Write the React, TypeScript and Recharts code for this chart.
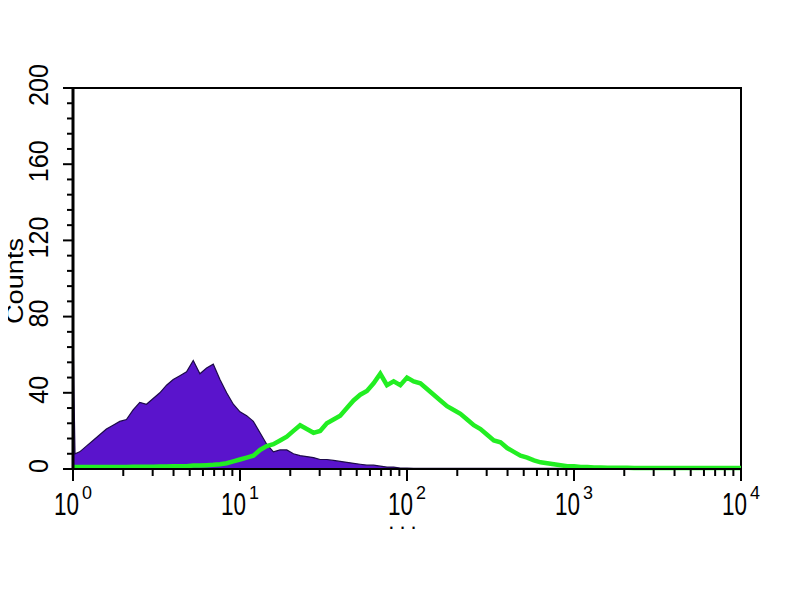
import React from "react";
import { ComposedChart, Area, Line, XAxis, YAxis, ReferenceArea } from "recharts";

// log10 channel positions of histogram bins
const channels = [
  0, 0.006, 0.012,
  0.04, 0.08, 0.12, 0.16, 0.2, 0.24, 0.28, 0.32, 0.36, 0.4,
  0.44, 0.48, 0.52, 0.56, 0.6, 0.64, 0.68, 0.72, 0.76, 0.8,
  0.84, 0.88, 0.92, 0.96, 1, 1.04, 1.08, 1.12, 1.16, 1.2,
  1.24, 1.28, 1.32, 1.36, 1.4, 1.44, 1.48, 1.52, 1.56, 1.6,
  1.64, 1.68, 1.72, 1.76, 1.8, 1.84, 1.88, 1.92, 1.96, 2,
  2.04, 2.08, 2.12, 2.16, 2.2, 2.24, 2.28, 2.32, 2.36, 2.4,
  2.44, 2.48, 2.52, 2.56, 2.6, 2.64, 2.68, 2.72, 2.76, 2.8,
  2.84, 2.88, 2.92, 2.96, 3, 3.04, 3.08, 3.12, 3.16, 3.2,
  3.24, 3.28, 3.32, 3.36, 3.4, 3.44, 3.48, 3.52, 3.56, 3.6,
  3.64, 3.68, 3.72, 3.76, 3.8, 3.84, 3.88, 3.92, 3.96, 4,
];

const purpleCounts = [
  75, 38, 8,
  9, 12, 15, 18, 21, 23, 25, 26, 31, 35,
  34, 37, 40, 44, 47, 49, 51, 57, 50, 53,
  55, 47, 40, 34, 30, 28, 25, 19, 13, 9,
  10, 10, 8, 7, 6.5, 6, 5, 5, 4.5, 4,
  3.5, 3, 2.5, 2, 2, 1.5, 1, 1, 0.5, 0.5,
  0.3, 0.3, 0.3, 0.3, 0.3, 0.3, 0.3, 0.3, 0.3, 0.3,
  0.3, 0.3, 0.3, 0.3, 0.3, 0.3, 0.3, 0.3, 0.3, 0.3,
  0.3, 0.3, 0.3, 0.3, 0, 0, 0, 0, 0, 0,
  0, 0, 0, 0, 0, 0, 0, 0, 0, 0,
  0, 0, 0, 0, 0, 0, 0, 0, 0, 0,
];

const greenCounts = [
  1, 1, 1,
  1, 1, 1, 1, 1, 1, 1, 1, 1.2, 1.2,
  1.2, 1.2, 1.3, 1.3, 1.5, 1.5, 1.5, 1.8, 1.8, 2,
  2.2, 2.5, 3, 4, 5, 6, 7, 10, 12, 13,
  15, 17, 20, 23, 21, 19, 20, 24, 26, 28,
  32, 36, 39, 41, 45, 50, 44, 46, 44, 48,
  46, 45, 42, 39, 36, 33, 31, 29, 26, 23,
  21, 18, 15, 14, 11, 9, 7, 6, 4.5, 3.5,
  3, 2.5, 2, 1.5, 1.5, 1, 1, 0.8, 0.8, 0.7,
  0.7, 0.6, 0.6, 0.5, 0.5, 0.5, 0.5, 0.5, 0.5, 0.5,
  0.5, 0.5, 0.5, 0.5, 0.5, 0.5, 0.5, 0.5, 0.5, 0.5,
];

const decades = [0, 1, 2, 3, 4];
const minorMultipliers = [2, 3, 4, 5, 6, 7, 8, 9];
const yTicks = [
  0, 8, 16, 24, 32, 40, 48, 56, 64, 72, 80, 88, 96, 104, 112, 120,
  128, 136, 144, 152, 160, 168, 176, 184, 192, 200,
];
const yLabelStep = 40;
const yLabel = "Counts";
const xLabel = "...";

const data = channels.map((c, i) => ({ x: c, purple: purpleCounts[i], green: greenCounts[i] }));

const xTicks: number[] = [];
decades.forEach((d) => {
  xTicks.push(d);
  if (d < decades[decades.length - 1]) {
    minorMultipliers.forEach((m) => xTicks.push(d + Math.log10(m)));
  }
});

const FONT = "'Liberation Sans', Arial, sans-serif";

const XTick = (props: any) => {
  const { x, y, payload } = props;
  const v = payload.value as number;
  const major = Math.abs(v - Math.round(v)) < 1e-6;
  return (
    <g>
      <line x1={x} y1={y} x2={x} y2={y + (major ? 12 : 7)} stroke="#000" strokeWidth={2} />
      {major && (
        <g>
          <text
            x={x + 6}
            y={y + 46}
            textAnchor="end"
            fontFamily={FONT}
            fontSize={31}
            textLength={25}
            lengthAdjust="spacingAndGlyphs"
            fill="#000"
          >
            10
          </text>
          <text
            x={x + 9}
            y={y + 30}
            textAnchor="start"
            fontFamily={FONT}
            fontSize={18}
            textLength={10}
            lengthAdjust="spacingAndGlyphs"
            fill="#000"
          >
            {Math.round(v)}
          </text>
        </g>
      )}
    </g>
  );
};

const YTick = (props: any) => {
  const { x, y, payload } = props;
  const v = payload.value as number;
  const major = v % yLabelStep === 0;
  const len = String(v).length * 14;
  return (
    <g>
      <line x1={x - (major ? 10 : 6)} y1={y} x2={x} y2={y} stroke="#000" strokeWidth={2} />
      {major && (
        <text
          x={48}
          y={y - 3}
          transform={`rotate(-90, 48, ${y - 3})`}
          textAnchor="middle"
          fontFamily={FONT}
          fontSize={28}
          textLength={len}
          lengthAdjust="spacingAndGlyphs"
          fill="#000"
        >
          {v}
        </text>
      )}
    </g>
  );
};

export default function App() {
  return (
    <div style={{ width: 800, height: 600, marginLeft: -8, marginTop: -8, background: "#fff" }}>
      <ComposedChart
        width={800}
        height={600}
        data={data}
        margin={{ top: 88, right: 59, bottom: 91, left: 13 }}
        style={{ overflow: "visible" }}
      >
        <XAxis
          dataKey="x"
          type="number"
          domain={[0, 4]}
          ticks={xTicks}
          interval={0}
          tick={<XTick />}
          tickLine={false}
          tickSize={0}
          tickMargin={0}
          height={40}
          axisLine={{ stroke: "#000", strokeWidth: 2 }}
        />
        <YAxis
          type="number"
          domain={[0, 200]}
          ticks={yTicks}
          interval={0}
          tick={<YTick />}
          tickLine={false}
          tickSize={0}
          tickMargin={0}
          width={60}
          axisLine={{ stroke: "#000", strokeWidth: 3 }}
        />
        <ReferenceArea x1={0} x2={4} y1={0} y2={200} fill="none" stroke="#000" strokeWidth={2} ifOverflow="visible" />
        <Area
          type="linear"
          dataKey="purple"
          fill="#5a14cc"
          fillOpacity={1}
          stroke="#1d0a4a"
          strokeWidth={1.2}
          isAnimationActive={false}
        />
        <Line
          type="linear"
          dataKey="green"
          stroke="#22ee22"
          strokeWidth={4.5}
          dot={false}
          isAnimationActive={false}
        />
        <text
          x={23}
          y={281}
          transform="rotate(-90, 23, 281)"
          textAnchor="middle"
          fontFamily={FONT}
          fontSize={24}
          textLength={86}
          lengthAdjust="spacingAndGlyphs"
          fill="#000"
        >
          {yLabel}
        </text>
        <text x={405} y={529} textAnchor="middle" fontFamily={FONT} fontSize={22} letterSpacing={5} fill="#000">
          {xLabel}
        </text>
      </ComposedChart>
    </div>
  );
}
